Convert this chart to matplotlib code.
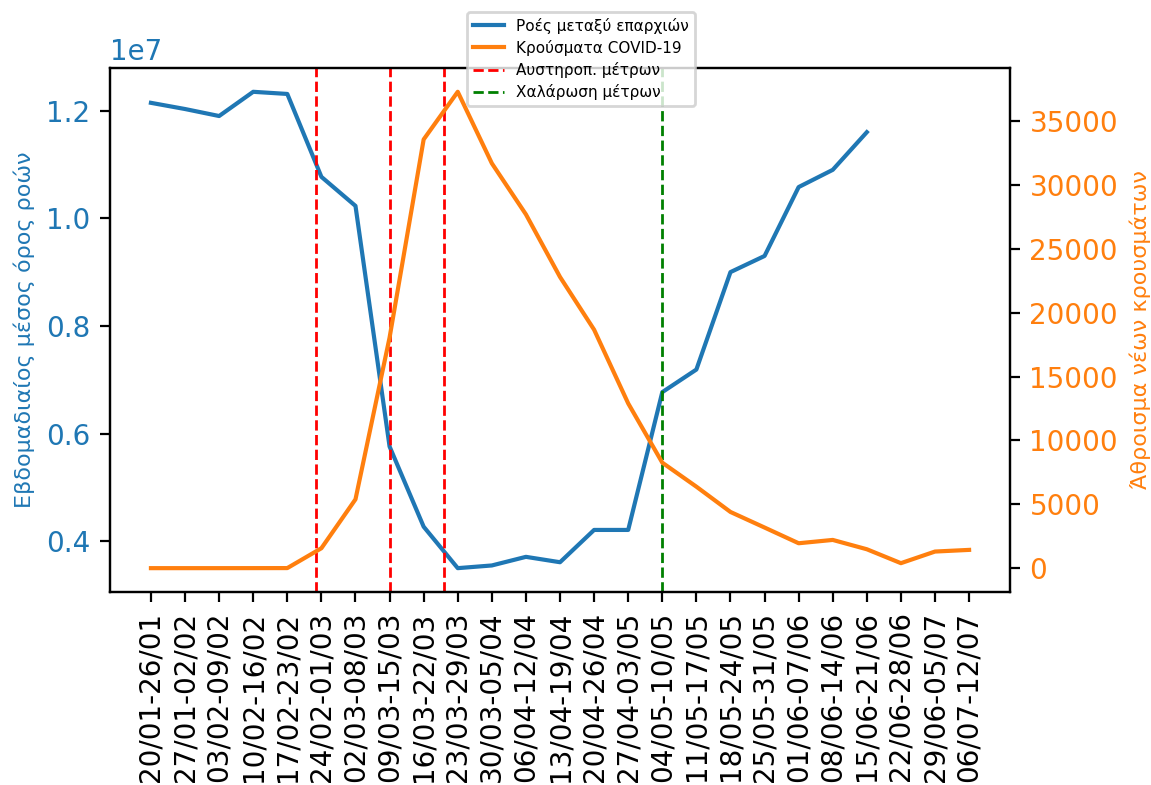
import matplotlib.pyplot as plt

weeks = ["20/01-26/01", "27/01-02/02", "03/02-09/02", "10/02-16/02", "17/02-23/02",
         "24/02-01/03", "02/03-08/03", "09/03-15/03", "16/03-22/03", "23/03-29/03",
         "30/03-05/04", "06/04-12/04", "13/04-19/04", "20/04-26/04", "27/04-03/05",
         "04/05-10/05", "11/05-17/05", "18/05-24/05", "25/05-31/05", "01/06-07/06",
         "08/06-14/06", "15/06-21/06", "22/06-28/06", "29/06-05/07", "06/07-12/07"]

flows = [1.2145e7, 1.203e7, 1.190e7, 1.235e7, 1.231e7, 1.077e7, 1.023e7, 0.576e7,
         0.427e7, 0.350e7, 0.355e7, 0.371e7, 0.361e7, 0.421e7, 0.421e7, 0.677e7,
         0.719e7, 0.900e7, 0.930e7, 1.058e7, 1.090e7, 1.160e7]

cases = [0, 0, 0, 2, 5, 1560, 5390, 18050, 33570, 37300, 31700, 27700, 22800,
         18670, 12900, 8260, 6380, 4400, 3180, 1950, 2210, 1480, 390, 1300, 1430]

strict_measures = [4.85, 7.0, 8.6]
relax_measures = [15.0]

blue, orange = "tab:blue", "tab:orange"

fig = plt.figure(figsize=(5.755, 3.925), dpi=200)
ax1 = fig.add_axes([0.0956, 0.2459, 0.7819, 0.6675])
ax2 = ax1.twinx()

ax1.plot(range(len(flows)), flows, color=blue, label="Ροές μεταξύ επαρχιών")
ax2.plot(range(len(cases)), cases, color=orange, label="Κρούσματα COVID-19")

for i, x in enumerate(strict_measures):
    ax1.axvline(x, color="red", linestyle="--", linewidth=1,
                label="Αυστηροπ. μέτρων" if i == 0 else None)
for x in relax_measures:
    ax1.axvline(x, color="green", linestyle="--", linewidth=1,
                label="Χαλάρωση μέτρων")

ax1.set_xticks(range(len(weeks)))
ax1.set_xticklabels(weeks, rotation=90)

ax1.set_ylabel("Εβδομαδιαίος μέσος όρος ροών", color=blue, fontsize=8)
ax1.tick_params(axis="y", labelcolor=blue)
ax1.yaxis.get_offset_text().set_color(blue)
ax2.set_ylabel("Άθροισμα νέων κρουσμάτων", color=orange, fontsize=8)
ax2.tick_params(axis="y", labelcolor=orange)

h1, l1 = ax1.get_legend_handles_labels()
h2, l2 = ax2.get_legend_handles_labels()
handles = [h1[0], h2[0]] + h1[1:]
labels = [l1[0], l2[0]] + l1[1:]
fig.legend(handles, labels, loc="upper center", bbox_to_anchor=(0.505, 0.995),
           fontsize=5.5, labelspacing=0.4)

fig.savefig("out.png", dpi=200)
